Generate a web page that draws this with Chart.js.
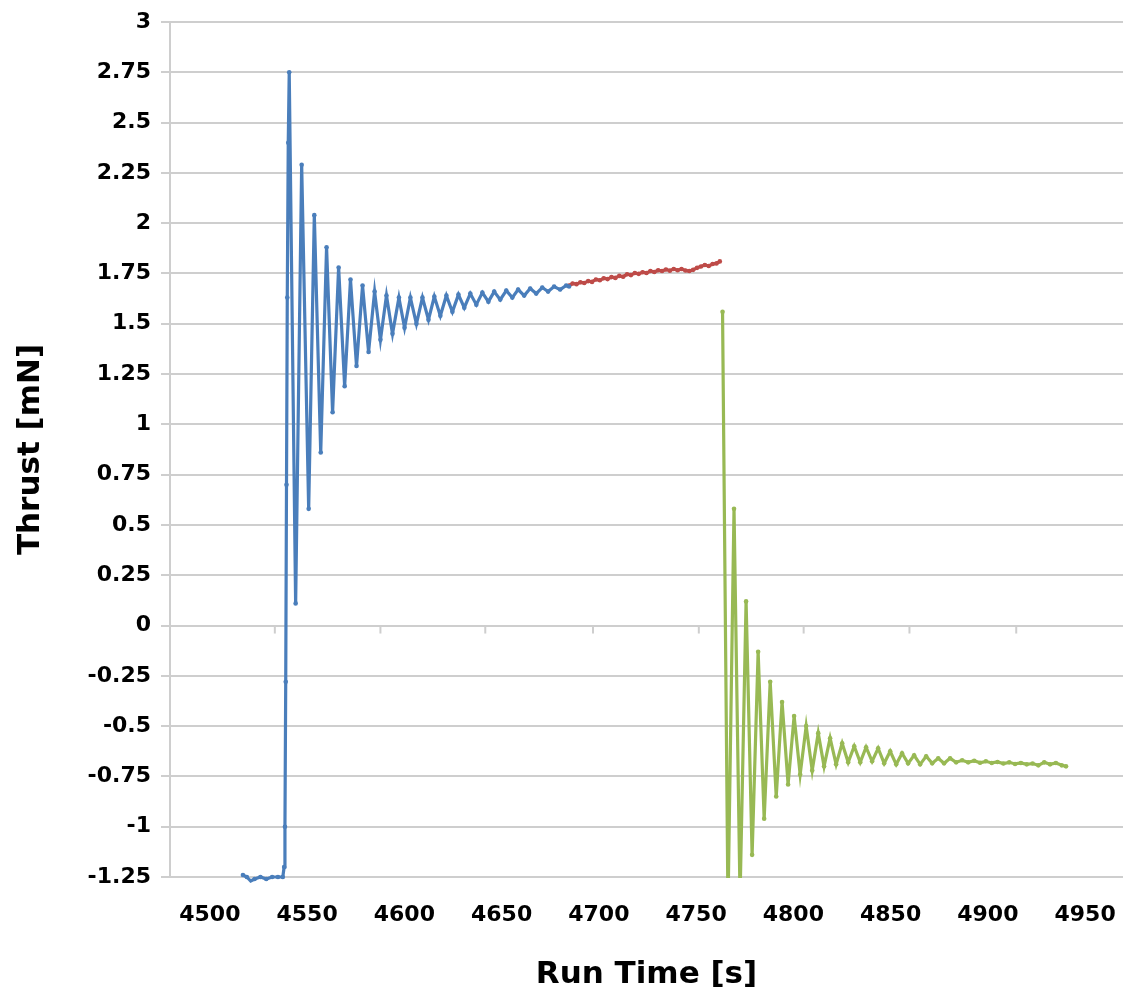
<!DOCTYPE html>
<html>
<head>
    <title>Thrust vs Run Time</title>
    <script src="https://cdn.jsdelivr.net/npm/chart.js"></script>
    <style>
        html, body { margin: 0; padding: 0; background: #fff; }
        #wrap { width: 1127px; height: 996px; }
    </style>
</head>
<body>
    <div id="wrap"><canvas id="thrust-chart"></canvas></div>

    <script>
        // blue: ignition + first settling
        const blueTime = [4517, 4519, 4521, 4523, 4526, 4529, 4532, 4535, 4537.5, 4538.2, 4538.6, 4539.0, 4539.4, 4539.8, 4540.3,
            4540.8, 4544.1, 4547.2, 4550.8, 4553.7, 4557.0, 4560.0, 4563.1, 4566.2, 4569.3, 4572.3, 4575.4, 4578.5, 4581.6,
            4584.7, 4587.7, 4590.8, 4593.9, 4597.2, 4600.1, 4603.1, 4606.2, 4609.3, 4612.4, 4615.4, 4618.5, 4621.6, 4624.7,
            4627.8, 4630.8, 4633.9, 4637.0, 4640.1, 4643.2, 4646.2, 4649.3, 4652.4, 4655.5, 4658.5, 4661.6, 4664.7, 4667.8,
            4670.9, 4673.9, 4677.0, 4680.1, 4683.2, 4684.7];
        const blueThrust = [-1.24, -1.25, -1.27, -1.26, -1.25, -1.26, -1.25, -1.25, -1.25, -1.2, -1.0, -0.28, 0.7, 1.63, 2.4,
            2.75, 0.11, 2.29, 0.58, 2.04, 0.86, 1.88, 1.06, 1.78, 1.19, 1.72, 1.29, 1.69, 1.36,
            1.66, 1.42, 1.64, 1.45, 1.63, 1.48, 1.63, 1.50, 1.63, 1.52, 1.635, 1.54, 1.64, 1.56,
            1.645, 1.58, 1.65, 1.595, 1.655, 1.61, 1.66, 1.62, 1.665, 1.63, 1.67, 1.64, 1.675, 1.65,
            1.68, 1.66, 1.685, 1.67, 1.69, 1.685];

        // red: steady firing
        const redTime = [4684.7, 4686.5, 4688.5, 4690.5, 4692.5, 4694.5, 4696.5, 4698.5, 4700.5, 4702.5, 4704.5, 4706.5,
            4708.5, 4710.5, 4712.5, 4714.5, 4716.5, 4718.5, 4720.5, 4722.5, 4724.5, 4726.5, 4728.5, 4730.5, 4732.5, 4734.5,
            4736.5, 4738.5, 4740.5, 4742.5, 4744.5, 4746.5, 4748.5, 4750.5, 4752.5, 4754.5, 4756.5, 4758.5, 4760.5, 4762.2];
        const redThrust = [1.69, 1.70, 1.697, 1.706, 1.703, 1.712, 1.708, 1.72, 1.716, 1.726, 1.722, 1.732,
            1.728, 1.738, 1.734, 1.746, 1.742, 1.752, 1.748, 1.756, 1.752, 1.762, 1.757, 1.766, 1.762, 1.77,
            1.764, 1.772, 1.766, 1.772, 1.765, 1.762, 1.768, 1.778, 1.785, 1.792, 1.787, 1.797, 1.80, 1.81];

        // green: shutdown
        const greenTime = [4763.6, 4766.4, 4769.5, 4772.6, 4775.7, 4778.8, 4781.9, 4785.0, 4788.1, 4791.2, 4794.2, 4797.3,
            4800.4, 4803.5, 4806.6, 4809.7, 4812.8, 4815.8, 4818.9, 4822.0, 4825.1, 4828.2, 4831.3, 4834.4, 4837.4, 4840.5,
            4843.6, 4846.7, 4849.8, 4852.9, 4855.9, 4859.0, 4862.1, 4865.2, 4868.3, 4871.4, 4874.5, 4877.5, 4880.6, 4883.7,
            4886.8, 4889.9, 4893.0, 4896.0, 4899.0, 4902.0, 4905.0, 4908.0, 4911.0, 4914.0, 4917.0, 4920.0, 4923.0, 4926.0,
            4929.0, 4932.0, 4935.0, 4938.0, 4940.2];
        const greenThrust = [1.56, -1.4, 0.58, -1.35, 0.12, -1.14, -0.13, -0.96, -0.28, -0.85, -0.38, -0.79,
            -0.45, -0.74, -0.50, -0.72, -0.535, -0.70, -0.56, -0.69, -0.585, -0.68, -0.60, -0.68, -0.605, -0.675,
            -0.61, -0.685, -0.625, -0.69, -0.635, -0.685, -0.645, -0.69, -0.65, -0.685, -0.66, -0.685, -0.66, -0.68,
            -0.67, -0.68, -0.672, -0.682, -0.675, -0.683, -0.678, -0.686, -0.68, -0.688, -0.683, -0.69, -0.686, -0.695,
            -0.68, -0.69, -0.683, -0.695, -0.70];

        const xTicks = [4500, 4550, 4600, 4650, 4700, 4750, 4800, 4850, 4900, 4950];
        const yTicks = [-1.25, -1, -0.75, -0.5, -0.25, 0, 0.25, 0.5, 0.75, 1, 1.25, 1.5, 1.75, 2, 2.25, 2.5, 2.75, 3];
        // small marks hanging under the zero line
        const zeroLineTicks = [4533.4, 4587.7, 4641.6, 4697, 4751.4, 4805.3, 4859.7, 4914.6];

        function toPoints(xs, ys) {
            return xs.map((x, i) => ({ x: x, y: ys[i] }));
        }

        function series(xs, ys, color, clip) {
            return {
                data: toPoints(xs, ys),
                borderColor: color,
                backgroundColor: color,
                borderWidth: 3.2,
                pointRadius: 2.3,
                pointBorderWidth: 0,
                tension: 0,
                clip: clip
            };
        }

        const gridGray = '#cecece';

        const zeroTickPlugin = {
            id: 'zeroTicks',
            afterDraw(chart) {
                const ctx = chart.ctx;
                const xs = chart.scales.x, ys = chart.scales.y;
                const y0 = ys.getPixelForValue(0);
                ctx.save();
                ctx.strokeStyle = gridGray;
                ctx.lineWidth = 2;
                zeroLineTicks.forEach(v => {
                    const px = xs.getPixelForValue(v);
                    ctx.beginPath();
                    ctx.moveTo(px, y0);
                    ctx.lineTo(px, y0 + 8);
                    ctx.stroke();
                });
                ctx.restore();
            }
        };

        const ctx = document.getElementById('thrust-chart').getContext('2d');
        new Chart(ctx, {
            type: 'line',
            data: {
                datasets: [
                    series(blueTime, blueThrust, '#4a7ebb', 8),
                    series(redTime, redThrust, '#be4b48', 8),
                    series(greenTime, greenThrust, '#98b954', 1)
                ]
            },
            options: {
                responsive: true,
                maintainAspectRatio: false,
                animation: false,
                layout: { padding: { top: 22, right: 0, bottom: 0, left: 0 } },
                plugins: {
                    legend: { display: false },
                    tooltip: { enabled: false }
                },
                scales: {
                    x: {
                        type: 'linear',
                        min: 4479.5,
                        max: 4969.5,
                        afterBuildTicks: s => { s.ticks = xTicks.map(v => ({ value: v })); },
                        afterFit: s => { s.height = 119; s.paddingLeft = 0; s.paddingRight = 0; },
                        grid: { display: false, drawTicks: false },
                        border: { display: false },
                        ticks: {
                            autoSkip: false,
                            maxRotation: 0,
                            padding: 25,
                            color: '#000',
                            font: { family: 'DejaVu Sans', size: 22, weight: 'bold' },
                            callback: v => String(v)
                        },
                        title: {
                            display: true,
                            text: 'Run Time [s]',
                            color: '#000',
                            padding: { top: 0, bottom: 2 },
                            font: { family: 'DejaVu Sans', size: 31, weight: 'bold' }
                        }
                    },
                    y: {
                        min: -1.25,
                        max: 3,
                        afterBuildTicks: s => { s.ticks = yTicks.map(v => ({ value: v })); },
                        afterFit: s => { s.width = 170; s.paddingTop = 0; s.paddingBottom = 0; },
                        grid: { color: gridGray, lineWidth: 2, tickLength: 9 },
                        border: { display: true, color: gridGray, width: 2 },
                        ticks: {
                            padding: 10,
                            color: '#000',
                            font: { family: 'DejaVu Sans', size: 22, weight: 'bold' },
                            callback: v => String(Number(v.toFixed(2)))
                        },
                        title: {
                            display: true,
                            text: 'Thrust [mN]',
                            color: '#000',
                            padding: { top: 12, bottom: 0 },
                            font: { family: 'DejaVu Sans', size: 31, weight: 'bold' }
                        }
                    }
                }
            },
            plugins: [zeroTickPlugin]
        });
    </script>
</body>
</html>
